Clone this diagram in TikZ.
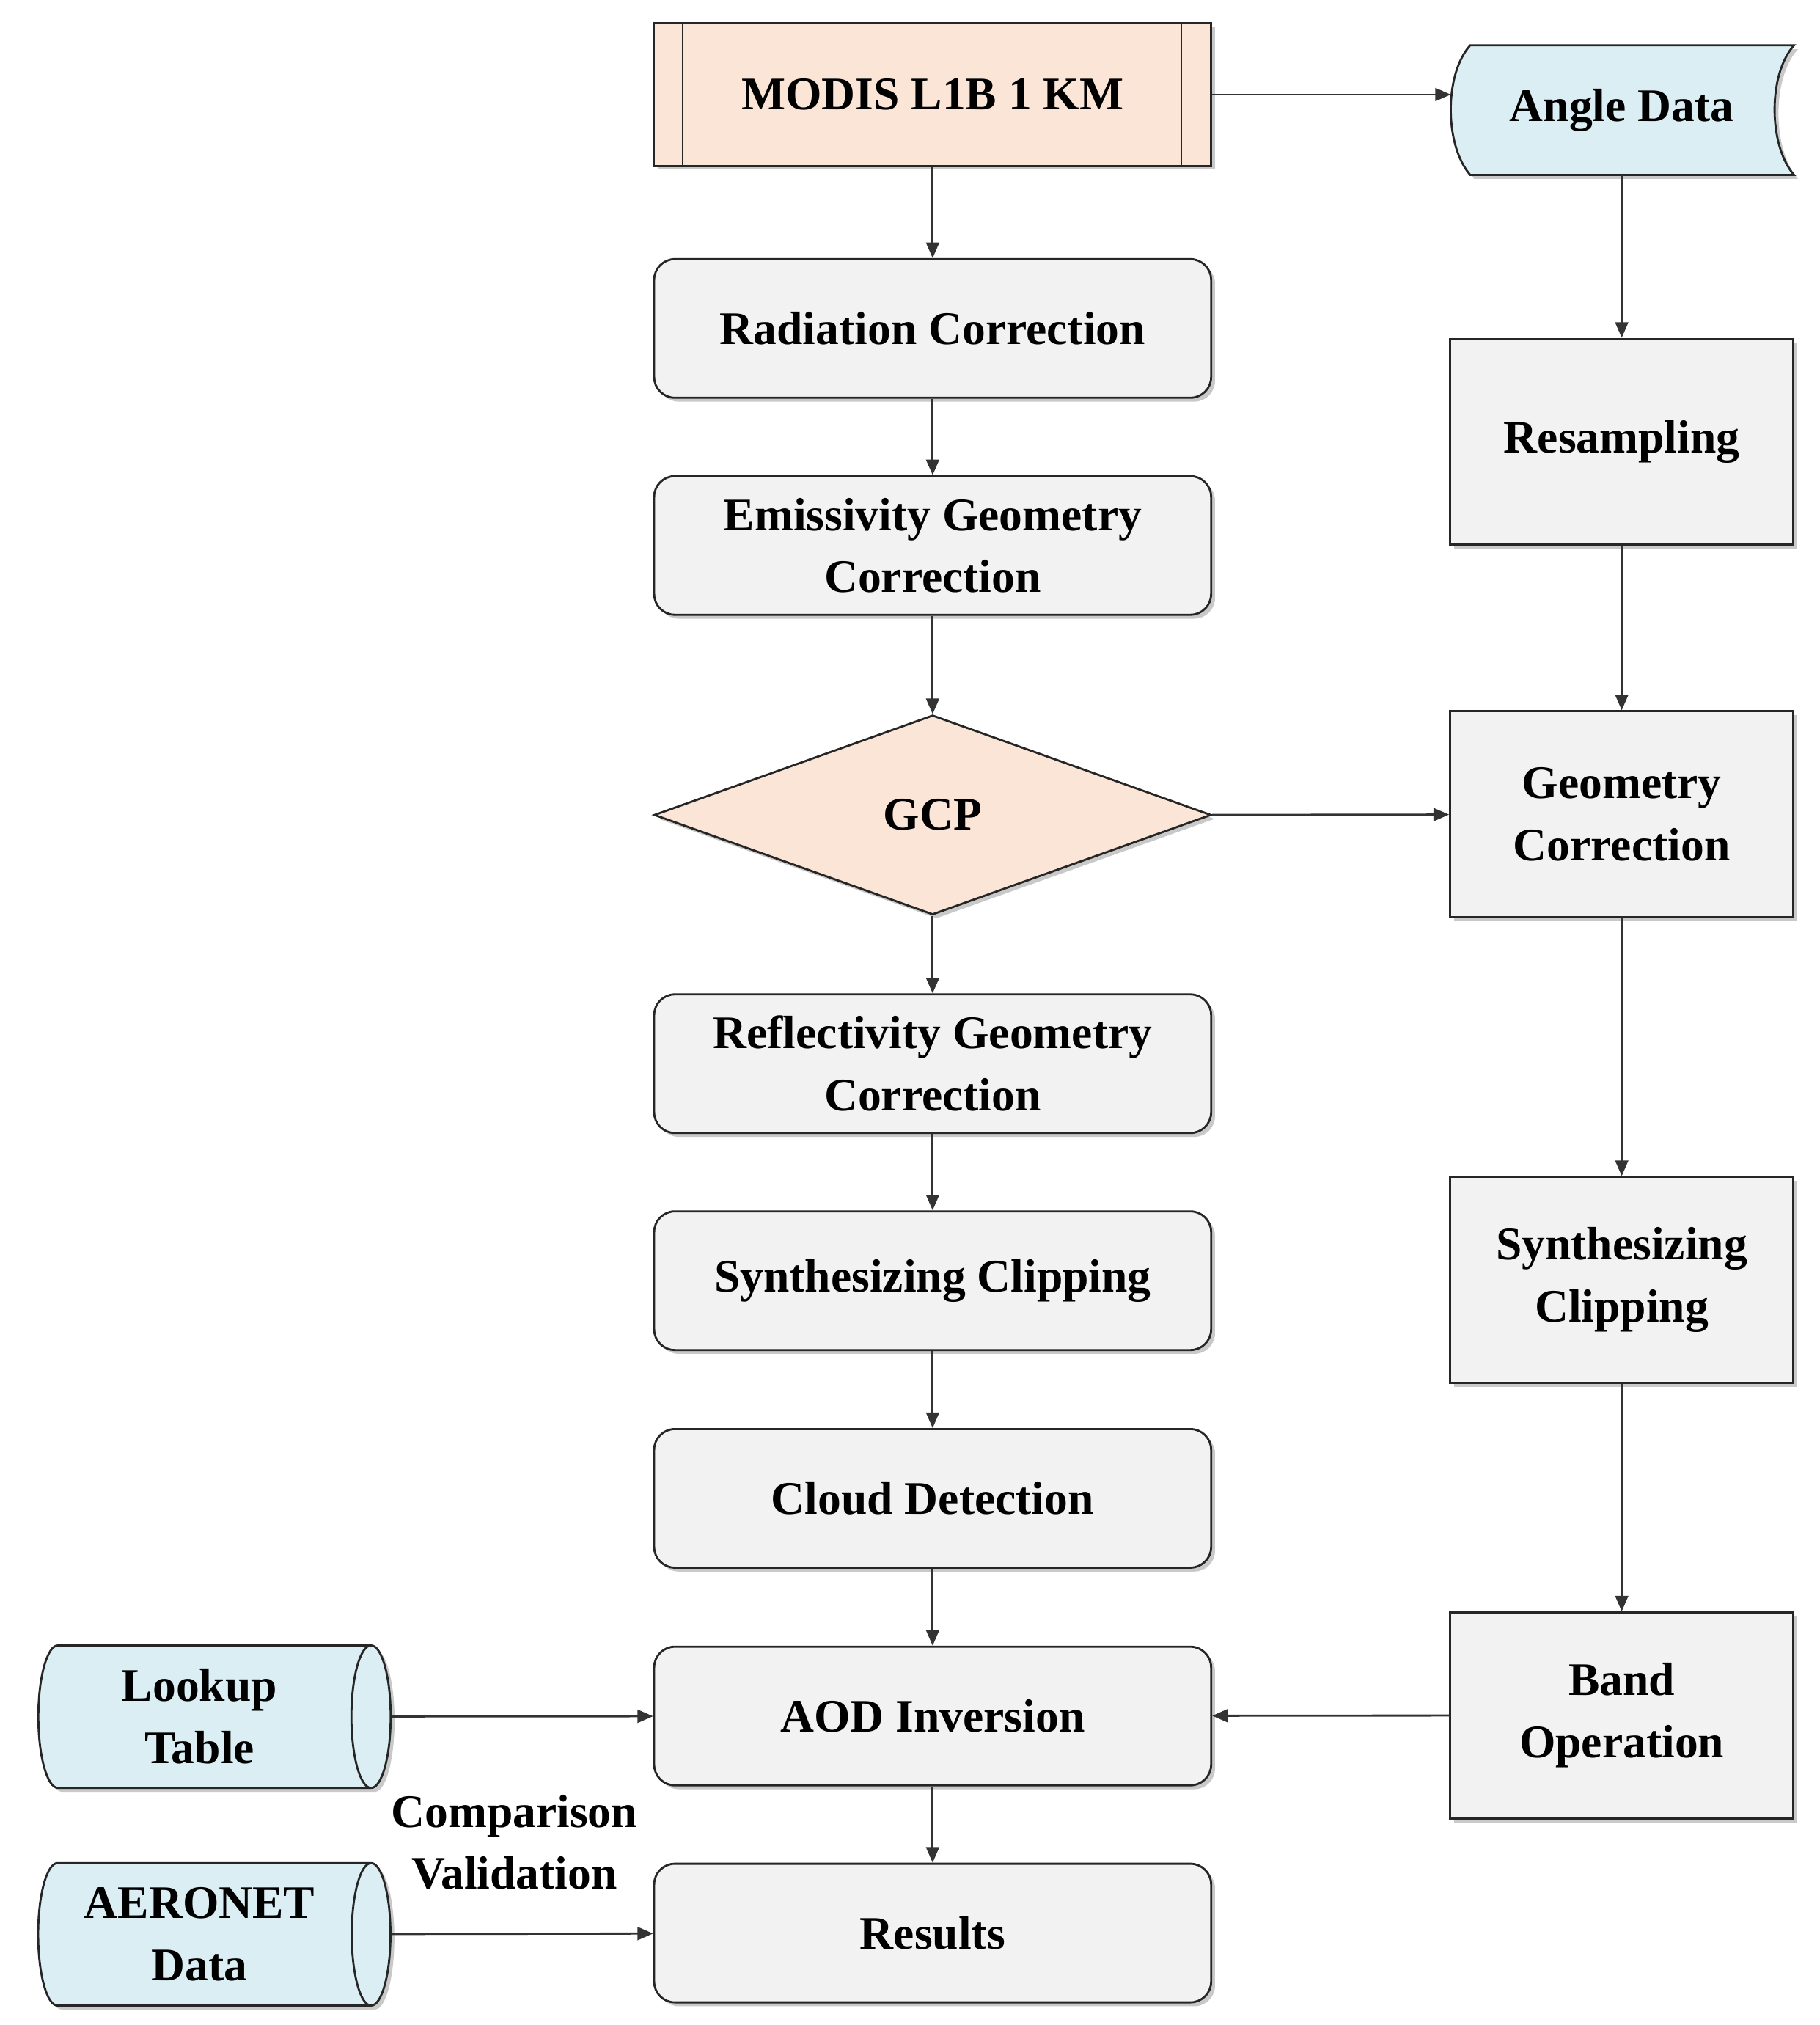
\documentclass[tikz,border=0pt]{standalone}
\usepackage{fontspec}
\setmainfont{Liberation Serif}
\usetikzlibrary{shapes.geometric,arrows.meta,shadows}
\definecolor{peach}{HTML}{FBE5D6}
\definecolor{lblue}{HTML}{DAEEF3}
\definecolor{lgray}{HTML}{F2F2F2}
\begin{document}
\begin{tikzpicture}[x=0.5pt,y=-0.5pt,
  font=\fontsize{18}{24}\selectfont\bfseries,
  shd/.style={drop shadow={shadow xshift=1.5pt,shadow yshift=-1.5pt,opacity=0.35,fill=black!60}},
  proc/.style={draw=black!85,line width=0.8pt,rounded corners=8pt,fill=lgray,minimum width=215pt,minimum height=53.5pt,align=center,shd},
  rproc/.style={draw=black!85,line width=0.8pt,fill=lgray,minimum width=132.5pt,minimum height=79.5pt,align=center,shd},
  cyl/.style={cylinder,draw=black!85,line width=0.8pt,fill=lblue,cylinder uses custom fill,cylinder body fill=lblue,cylinder end fill=lblue,aspect=0.35,minimum width=55pt,minimum height=136pt,align=center,shd},
  arr/.style={-{Triangle[length=6pt,width=5pt]},draw=black!80,line width=0.8pt}]
\useasboundingbox (0,0) rectangle (1405,1563);
\fill[white] (0,0) rectangle (1405,1563);
% MODIS
\node[draw=black!85,line width=0.8pt,fill=peach,minimum width=215pt,minimum height=55pt,shd] (modis) at (720,73) {MODIS L1B 1 KM};
\draw[black!85,line width=0.8pt] (527,18) -- (527,128) (912,18) -- (912,128);
% Angle data
\fill[black!60,opacity=0.35] (1138,38) -- (1388,38) .. controls (1368,60) and (1368,115) .. (1388,138) -- (1138,138) .. controls (1118,115) and (1118,60) .. (1138,38) -- cycle;
\draw[black!85,line width=0.8pt,fill=lblue] (1135,35) -- (1385,35) .. controls (1365,57) and (1365,112) .. (1385,135) -- (1135,135) .. controls (1115,112) and (1115,57) .. (1135,35) -- cycle;
\node[minimum width=125pt,minimum height=50pt] (angle) at (1252,85) {Angle Data};
\coordinate (angleW) at (1120,73);
% Left chain
\node[proc] (rad) at (720,253.5) {Radiation Correction};
\node[proc] (emi) at (720,421) {Emissivity Geometry\\Correction};
\node[diamond,draw=black!85,line width=0.8pt,fill=peach,aspect=2.8,minimum width=215pt,minimum height=77pt,inner sep=0pt,shd] (gcp) at (720,629) {GCP};
\node[proc] (ref) at (720,821) {Reflectivity Geometry\\Correction};
\node[proc] (syn) at (720,988.5) {Synthesizing Clipping};
\node[proc] (cld) at (720,1156.5) {Cloud Detection};
\node[proc] (aod) at (720,1324.5) {AOD Inversion};
\node[proc] (res) at (720,1492) {Results};
% Right chain
\node[rproc] (rsm) at (1252,341) {Resampling};
\node[rproc] (geo) at (1252,628.5) {Geometry\\Correction};
\node[rproc] (syr) at (1252,988) {Synthesizing\\Clipping};
\node[rproc] (band) at (1252,1324) {Band\\Operation};
% cylinders
\node[cyl] (lut) at (154,1325) {Lookup\\Table};
\node[cyl] (aer) at (154,1493) {AERONET\\Data};
\node[align=center] (cmp) at (397,1422) {Comparison\\Validation};
% arrows
\draw[arr] (modis) -- (angleW);
\draw[arr] (modis) -- (rad);
\draw[arr] (rad) -- (emi);
\draw[arr] (emi) -- (gcp);
\draw[arr] (gcp) -- (ref);
\draw[arr] (ref) -- (syn);
\draw[arr] (syn) -- (cld);
\draw[arr] (cld) -- (aod);
\draw[arr] (aod) -- (res);
\draw[arr] (angle.south |- 0,135) -- (rsm);
\draw[arr] (rsm) -- (geo);
\draw[arr] (gcp.east) -- (geo);
\draw[arr] (geo) -- (syr);
\draw[arr] (syr) -- (band);
\draw[arr] (band) -- (aod);
\draw[arr] (lut) -- (aod);
\draw[arr] (aer) -- (res);
\end{tikzpicture}
\end{document}
